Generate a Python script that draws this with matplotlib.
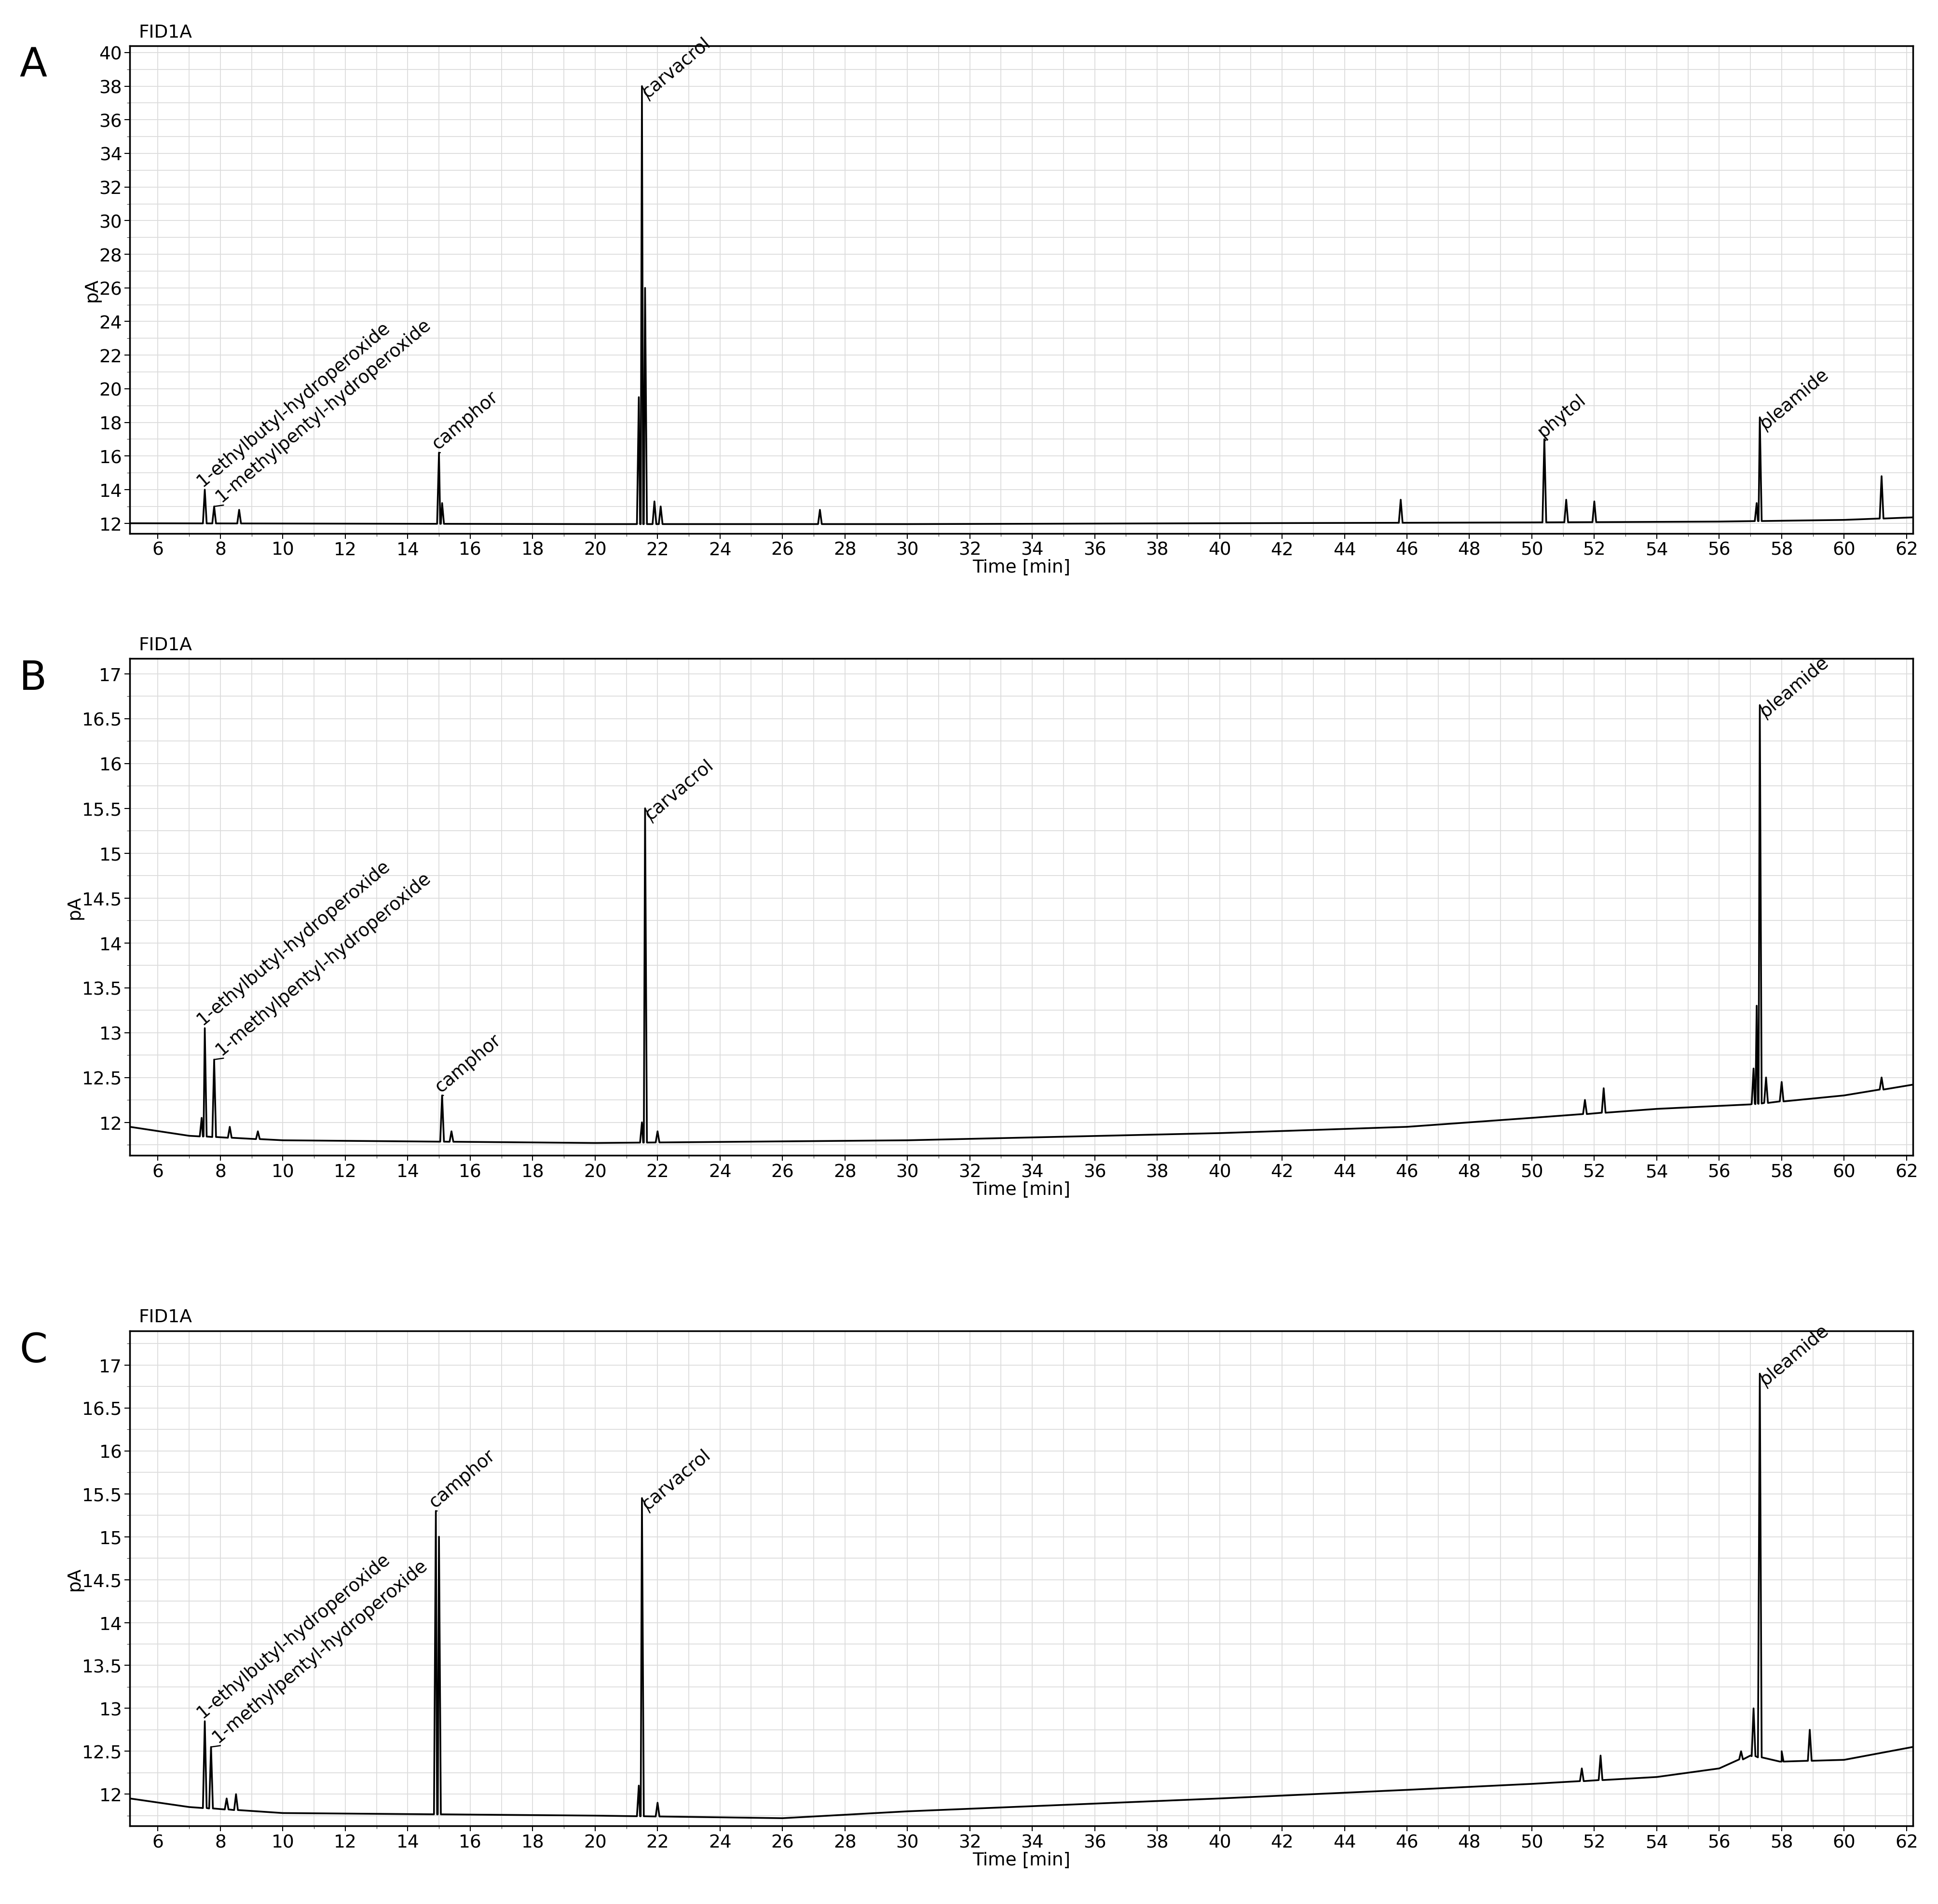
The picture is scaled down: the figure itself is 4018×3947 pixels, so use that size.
import matplotlib
matplotlib.use("Agg")
import matplotlib.pyplot as plt
import numpy as np
from matplotlib.ticker import MultipleLocator

# ---- data ----
base_A = [(5.1, 12.0), (20, 11.95), (30, 11.95), (40, 12.0), (50, 12.05), (56, 12.1), (60, 12.2), (62.2, 12.35)]
peaks_A = [(7.5, 14.0), (7.8, 13.0), (8.6, 12.8), (15.0, 16.2), (15.1, 13.2), (21.4, 19.5), (21.5, 38.0), (21.6, 26.0),
           (21.9, 13.3), (22.1, 13.0), (27.2, 12.8), (45.8, 13.4), (50.4, 17.0), (51.1, 13.4), (52.0, 13.3),
           (57.2, 13.2), (57.3, 18.3), (61.2, 14.8)]
base_B = [(5.1, 11.95), (7, 11.85), (10, 11.8), (20, 11.77), (30, 11.8), (40, 11.88), (46, 11.95), (50, 12.05),
          (54, 12.15), (57, 12.2), (60, 12.3), (62.2, 12.42)]
peaks_B = [(7.4, 12.05), (7.5, 13.05), (7.8, 12.7), (8.3, 11.95), (9.2, 11.9), (15.1, 12.3), (15.4, 11.9),
           (21.5, 12.0), (21.6, 15.5), (22.0, 11.9), (51.7, 12.25), (52.3, 12.38), (57.1, 12.6), (57.2, 13.3),
           (57.3, 16.65), (57.5, 12.5), (58.0, 12.45), (61.2, 12.5)]
base_C = [(5.1, 11.95), (7, 11.85), (10, 11.78), (20, 11.75), (26, 11.72), (30, 11.8), (40, 11.95), (46, 12.05),
          (50, 12.12), (54, 12.2), (56, 12.3), (57, 12.45), (58, 12.38), (60, 12.4), (62.2, 12.55)]
peaks_C = [(7.5, 12.85), (7.7, 12.55), (8.2, 11.95), (8.5, 12.0), (14.9, 15.3), (15.0, 15.0), (21.4, 12.1),
           (21.5, 15.45), (22.0, 11.9), (51.6, 12.3), (52.2, 12.45), (56.7, 12.5), (57.1, 13.0), (57.3, 16.9),
           (58.0, 12.5), (58.9, 12.75)]
labels_A = [("1-ethylbutyl-hydroperoxide", 7.5, 14.0), ("1-methylpentyl-hydroperoxide", 7.8, 13.0),
            ("camphor", 15.0, 16.2), ("carvacrol", 21.5, 38.0), ("phytol", 50.4, 17.0), ("oleamide", 57.3, 18.3)]
labels_B = [("1-ethylbutyl-hydroperoxide", 7.5, 13.05), ("1-methylpentyl-hydroperoxide", 7.8, 12.7),
            ("camphor", 15.1, 12.3), ("carvacrol", 21.6, 15.5), ("oleamide", 57.3, 16.65)]
labels_C = [("1-ethylbutyl-hydroperoxide", 7.5, 12.85), ("1-methylpentyl-hydroperoxide", 7.7, 12.55),
            ("camphor", 14.9, 15.3), ("carvacrol", 21.5, 15.45), ("oleamide", 57.3, 16.9)]

# leader offsets (points) per label name
offsets = {"1-ethylbutyl-hydroperoxide": (0, 0), "1-methylpentyl-hydroperoxide": (14, 2),
           "camphor": (2, 0), "carvacrol": (12, -22), "phytol": (2, -2), "oleamide": (12, -22)}

panels = [
    ("A", base_A, peaks_A, labels_A, (11.4, 40.4), 2, 1, [0.067, 0.7197, 0.920, 0.256]),
    ("B", base_B, peaks_B, labels_B, (11.63, 17.17), 0.5, 0.25, [0.067, 0.393, 0.920, 0.261]),
    ("C", base_C, peaks_C, labels_C, (11.63, 17.4), 0.5, 0.25, [0.067, 0.041, 0.920, 0.260]),
]

fig = plt.figure(figsize=(40.18, 39.48), dpi=100)
FS = 27
for letter, base, peaks, labels, ylim, ymaj, ymin, rect in panels:
    ax = fig.add_axes(rect)
    bx = np.array([b[0] for b in base]); by = np.array([b[1] for b in base])
    xs = list(bx); ys = list(by)
    for t, h in peaks:
        b0 = np.interp(t, bx, by)
        xs += [t - 0.06, t, t + 0.06]; ys += [b0, h, b0]
    order = np.argsort(xs, kind="stable")
    ax.plot(np.array(xs)[order], np.array(ys)[order], color="black", lw=2.6)
    ax.set_xlim(5.1, 62.2); ax.set_ylim(*ylim)
    ax.xaxis.set_major_locator(MultipleLocator(2)); ax.xaxis.set_minor_locator(MultipleLocator(1))
    ax.yaxis.set_major_locator(MultipleLocator(ymaj)); ax.yaxis.set_minor_locator(MultipleLocator(ymin))
    ax.grid(which="both", color="#dcdcdc", lw=1.3)
    ax.set_axisbelow(True)
    ax.tick_params(labelsize=FS, length=8, width=1.5)
    ax.tick_params(which="minor", length=4)
    yt = [v for v in np.arange(12, ylim[1], ymaj)]
    ax.set_yticks(yt)
    ax.set_yticklabels([("%g" % v) for v in yt])
    for s in ax.spines.values():
        s.set_linewidth(2.5)
    ax.set_xlabel("Time [min]", fontsize=FS, labelpad=0)
    ax.set_ylabel("pA", fontsize=FS, labelpad=-2)
    ax.text(0.005, 1.01, "FID1A", transform=ax.transAxes, fontsize=FS, va="bottom")
    ax.text(-0.062, 1.0, letter, transform=ax.transAxes, fontsize=60, va="top")
    for name, t, h in labels:
        dx, dy = offsets[name]
        if (dx, dy) != (0, 0):
            ax.annotate("", xy=(t, h), xytext=(dx, dy), textcoords="offset points",
                        arrowprops=dict(arrowstyle="-", lw=1.8, color="black", shrinkA=0, shrinkB=0))
        ax.annotate(name, xy=(t, h), xytext=(dx, dy), textcoords="offset points", fontsize=FS,
                    rotation=40, rotation_mode="anchor", ha="left", va="bottom")
fig.savefig("out.png", dpi=100)
